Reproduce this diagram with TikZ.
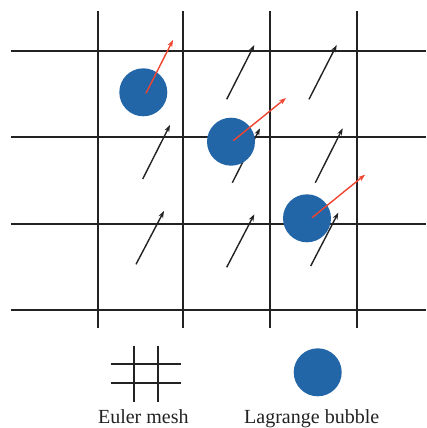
\documentclass[tikz,border=0pt]{standalone}
\usepackage{fontspec}
\setmainfont{Liberation Serif}
\usetikzlibrary{arrows.meta}
\definecolor{bubble}{HTML}{2366A8}
\definecolor{vred}{HTML}{EE4430}
\definecolor{ink}{HTML}{222222}
\begin{document}
\begin{tikzpicture}[x=1pt,y=-1pt,
  mesh/.style={draw=ink,line width=2pt},
  bub/.style={circle,fill=bubble,minimum size=48pt,inner sep=0pt},
  vel/.style={draw=ink,line width=1.4pt,-{Stealth[length=7pt,width=5pt]}},
  lvel/.style={draw=vred,line width=1.4pt,-{Stealth[length=7pt,width=5pt]}},
  lab/.style={font=\fontsize{20}{24}\selectfont,text=ink,inner sep=0pt}]
\useasboundingbox (0,0) rectangle (426,428);
% mesh
\foreach \x in {97.7,183.3,270,357} \draw[mesh] (\x,11) -- (\x,328);
\foreach \y in {50.7,137.3,224,310} \draw[mesh] (10.7,\y) -- (426,\y);
% black velocity arrows
\foreach \i/\ax/\ay/\bx/\by in {
  a1/226.7/99.3/254.3/45, a2/309/99.3/336.7/45,
  b1/142.7/179/170/125, b2/232.3/182.7/260/128.3, b3/315.3/182.7/342.7/128.3,
  c1/136/264.3/164/211, c2/226.7/267.3/254.3/214.3, c3/310.7/266/338.3/212.7}{
  \coordinate (\i s) at (\ax,\ay);
  \coordinate (\i e) at (\bx,\by);
  \draw[vel] (\i s) -- (\i e);
}
% bubbles
\node[bub] (p1) at (143.3,92.3) {};
\node[bub] (p2) at (231,141.7) {};
\node[bub] (p3) at (307,218.3) {};
\coordinate (r1) at (173,40);
\coordinate (r2) at (286,98);
\coordinate (r3) at (365,174.7);
\draw[lvel] ([shift={(2.7,1)}]p1.center) -- (r1);
\draw[lvel] ([shift={(2.3,-1)}]p2.center) -- (r2);
\draw[lvel] ([shift={(5,-0.6)}]p3.center) -- (r3);
% legend
\draw[mesh] (134.3,345.7) -- (134.3,402.3);
\draw[mesh] (158.3,345.7) -- (158.3,402.3);
\draw[mesh] (110.7,364) -- (180.7,364);
\draw[mesh] (110.7,383.3) -- (180.7,383.3);
\node[bub] (lb) at (317.7,372.3) {};
\node[lab,anchor=base] (t1) at (143.3,423) {Euler mesh};
\node[lab,anchor=base] (t2) at (311.7,423) {Lagrange bubble};
\end{tikzpicture}
\end{document}
